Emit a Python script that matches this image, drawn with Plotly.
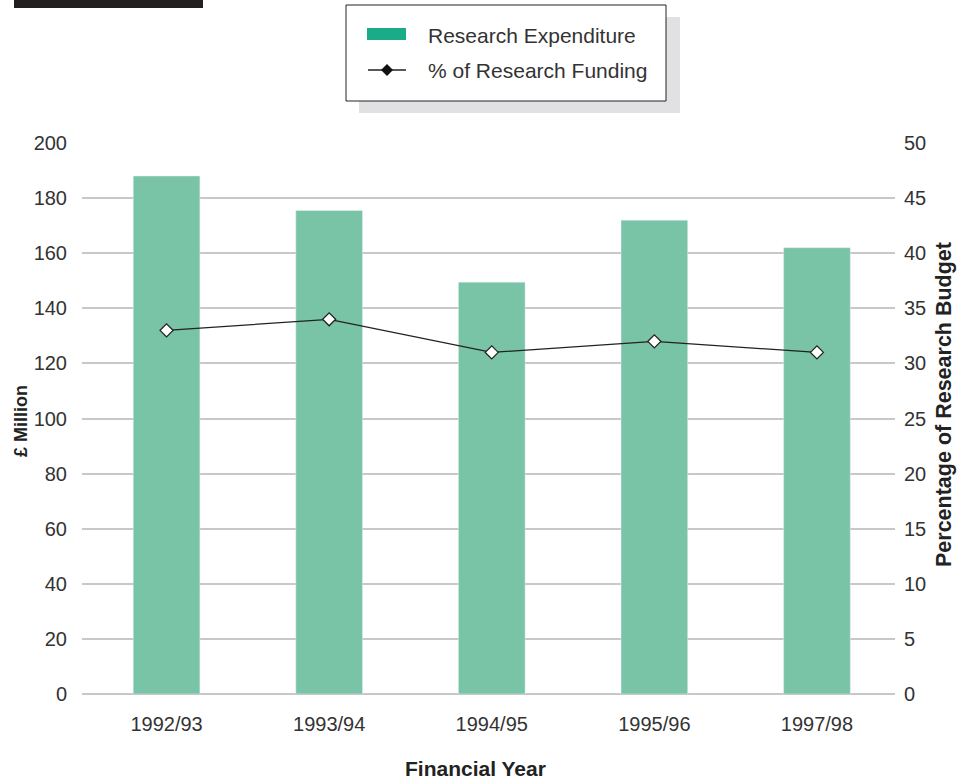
import plotly.graph_objects as go

years = ["1992/93", "1993/94", "1994/95", "1995/96", "1997/98"]
expenditure = [188, 175.5, 149.5, 172, 162]
pct_funding = [33, 34, 31, 32, 31]
left_ticks = [0, 20, 40, 60, 80, 100, 120, 140, 160, 180, 200]
right_ticks = [0, 5, 10, 15, 20, 25, 30, 35, 40, 45, 50]

L, R, T, B = 82, 69, 143, 86
W, H = 964, 780
pw, ph = W - L - R, H - T - B


def px(x):
    return (x - L) / pw


def py(y):
    return (H - B - y) / ph


FONT = "Liberation Sans, Arial, Helvetica, sans-serif"

fig = go.Figure()
fig.add_trace(go.Bar(x=list(range(len(years))), y=expenditure, marker_color="#79c3a7",
                     width=0.41, name="Research Expenditure", showlegend=False))
fig.add_trace(go.Scatter(x=list(range(len(years))), y=pct_funding, yaxis="y2", mode="lines+markers",
                         line=dict(color="#222222", width=1.3),
                         marker=dict(symbol="diamond", size=10, color="white",
                                     line=dict(color="#222222", width=1.3)),
                         name="% of Research Funding", showlegend=False))

dcx, dcy = 387, 70
diamond = "M {a},{b} L {c},{d} L {e},{f} L {g},{h} Z".format(
    a=px(dcx - 6), b=py(dcy), c=px(dcx), d=py(dcy - 6), e=px(dcx + 6), f=py(dcy), g=px(dcx), h=py(dcy + 6))

shapes = [
    # top-left black bar
    dict(type="rect", xref="paper", yref="paper", x0=px(14), x1=px(203), y0=py(8), y1=py(-2),
         fillcolor="#231f20", line_width=0, layer="above"),
    # legend shadow
    dict(type="rect", xref="paper", yref="paper", x0=px(359), x1=px(680), y0=py(113), y1=py(17),
         fillcolor="#e1e1e3", line_width=0),
    # legend box
    dict(type="rect", xref="paper", yref="paper", x0=px(346), x1=px(666), y0=py(101), y1=py(5),
         fillcolor="white", line=dict(color="#222222", width=1)),
    # legend swatch
    dict(type="rect", xref="paper", yref="paper", x0=px(367), x1=px(406), y0=py(40), y1=py(28),
         fillcolor="#1aab88", line_width=0),
    # legend line
    dict(type="line", xref="paper", yref="paper", x0=px(368), x1=px(406), y0=py(70), y1=py(70),
         line=dict(color="#222222", width=1.3)),
    # legend diamond
    dict(type="path", xref="paper", yref="paper", path=diamond, fillcolor="#111111", line_width=0),
]

annotations = [
    dict(text="Research Expenditure", xref="paper", yref="paper", x=px(426), y=py(35),
         xanchor="left", yanchor="middle", showarrow=False,
         font=dict(family=FONT, size=21, color="#333333")),
    dict(text="% of Research Funding", xref="paper", yref="paper", x=px(426), y=py(71),
         xanchor="left", yanchor="middle", showarrow=False,
         font=dict(family=FONT, size=21, color="#333333")),
    # axis titles
    dict(text="<b>Financial Year</b>", xref="paper", yref="paper", x=px(475), y=py(768),
         xanchor="center", yanchor="middle", showarrow=False,
         font=dict(family=FONT, size=21, color="#222222")),
    dict(text="<b>£ Million</b>", xref="paper", yref="paper", x=px(21), y=py(421),
         xanchor="center", yanchor="middle", showarrow=False, textangle=-90,
         font=dict(family=FONT, size=18, color="#222222")),
    dict(text="<b>Percentage of Research Budget</b>", xref="paper", yref="paper", x=px(944), y=py(405),
         xanchor="center", yanchor="middle", showarrow=False, textangle=-90,
         font=dict(family=FONT, size=21.5, color="#222222")),
]

fig.update_layout(
    width=W, height=H,
    margin=dict(l=L, r=R, t=T, b=B),
    paper_bgcolor="white", plot_bgcolor="white",
    font=dict(family=FONT, size=20, color="#333333"),
    showlegend=False,
    xaxis=dict(range=[-0.52, 4.48], tickmode="array", tickvals=list(range(len(years))), ticktext=years,
               showgrid=False, zeroline=False, showline=False, ticks="", automargin=False,
               ticklabelstandoff=16, tickfont=dict(size=20)),
    yaxis=dict(range=[0, 200], tickvals=left_ticks, showgrid=True, gridcolor="#c8c8c8", gridwidth=1.5,
               zeroline=True, zerolinecolor="#c8c8c8", zerolinewidth=1.5, showline=False, ticks="",
               automargin=False, ticklabelstandoff=14, tickfont=dict(size=20)),
    yaxis2=dict(range=[0, 50], tickvals=right_ticks, overlaying="y", side="right", showgrid=False,
                zeroline=False, showline=False, ticks="", automargin=False,
                ticklabelstandoff=8, tickfont=dict(size=20)),
    shapes=shapes,
    annotations=annotations,
)

fig.write_html("out.html")
